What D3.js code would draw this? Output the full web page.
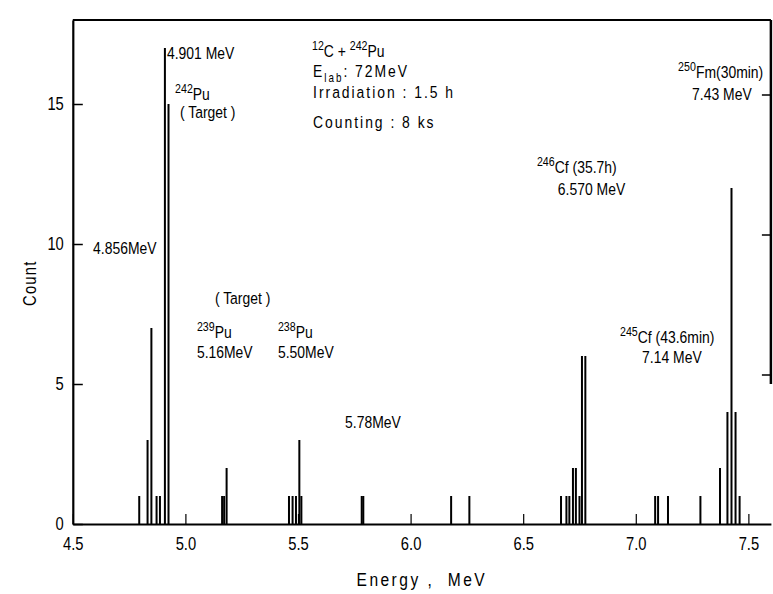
<!DOCTYPE html>
<html>
<head>
<meta charset="utf-8">
<script src="https://cdn.jsdelivr.net/npm/d3@7"></script>
<style>
  html, body { margin: 0; padding: 0; background: #fff; }
  svg { display: block; }
  text { font-family: "Liberation Sans", Arial, sans-serif; fill: #000; white-space: pre; }
</style>
</head>
<body>
<div id="chart"></div>
<script>
// ---- data ----
const energies = [4.795, 4.832, 4.849, 4.872, 4.887, 4.909, 4.925,
  5.163, 5.172, 5.183,
  5.460, 5.476, 5.491, 5.506, 5.515,
  5.783, 5.790,
  6.180, 6.261,
  6.668, 6.692, 6.705, 6.721, 6.734, 6.750, 6.761, 6.776,
  7.086, 7.099, 7.143,
  7.287, 7.374, 7.407, 7.425, 7.443, 7.461];
const counts = [1, 3, 7, 1, 1, 17, 15,
  1, 1, 2,
  1, 1, 1, 3, 1,
  1, 1,
  1, 1,
  1, 1, 1, 2, 2, 1, 6, 6,
  1, 1, 1,
  1, 2, 4, 12, 4, 1];
const xTicks = [4.5, 5.0, 5.5, 6.0, 6.5, 7.0, 7.5];
const yTicks = [0, 5, 10, 15];
const xTitle = "Energy ,\u00A0\u00A0MeV";
const yTitle = "Count";

// annotations: text parts anchored at (energy, count)
const notes = [
  { e: 4.918, c: 16.61, parts: [["4.901 MeV"]] },
  { e: 4.954, c: 15.14, parts: [["242", "sup"], ["Pu"]] },
  { e: 4.976, c: 14.50, parts: [["( Target )"]] },
  { e: 4.590, c: 9.64,  parts: [["4.856MeV"]] },
  { e: 5.562, c: 16.68, parts: [["12", "sup"], ["C + "], ["242", "sup"], ["Pu"]] },
  { e: 5.567, c: 15.96, parts: [["E"], ["lab", "sub"], [": 72MeV"]], wide: true },
  { e: 5.567, c: 15.21, parts: [["Irradiation : 1.5 h"]], wide: true },
  { e: 5.567, c: 14.14, parts: [["Counting : 8 ks"]], wide: true },
  { e: 5.131, c: 7.86,  parts: [["( Target )"]] },
  { e: 5.051, c: 6.64,  parts: [["239", "sup"], ["Pu"]] },
  { e: 5.051, c: 5.93,  parts: [["5.16MeV"]] },
  { e: 5.411, c: 6.64,  parts: [["238", "sup"], ["Pu"]] },
  { e: 5.411, c: 5.93,  parts: [["5.50MeV"]] },
  { e: 5.709, c: 3.43,  parts: [["5.78MeV"]] },
  { e: 6.561, c: 12.54, parts: [["246", "sup"], ["Cf (35.7h)"]] },
  { e: 6.654, c: 11.75, parts: [["6.570 MeV"]] },
  { e: 6.930, c: 6.46,  parts: [["245", "sup"], ["Cf (43.6min)"]] },
  { e: 7.028, c: 5.75,  parts: [["7.14 MeV"]] },
  { e: 7.188, c: 15.93, parts: [["250", "sup"], ["Fm(30min)"]] },
  { e: 7.250, c: 15.14, parts: [["7.43 MeV"]] }
];

// ---- layout ----
const W = 773, H = 594;
const x = d3.scaleLinear().domain([4.5, 7.6]).range([72.8, 770.9]);
const y = d3.scaleLinear().domain([0, 18]).range([524, 20]);
const SX = 0.82;

const svg = d3.select("#chart").append("svg")
  .attr("width", W).attr("height", H)
  .style("background", "#fff");

// frame (top and right)
svg.append("line").attr("x1", x(4.5)).attr("x2", x(7.6))
  .attr("y1", y(18)).attr("y2", y(18))
  .attr("stroke", "#000").attr("stroke-width", 2);
svg.append("line").attr("x1", x(7.6)).attr("x2", x(7.6))
  .attr("y1", y(18)).attr("y2", y(5))
  .attr("stroke", "#000").attr("stroke-width", 2.5);
// right inward ticks
svg.selectAll("line.rt").data(yTicks.filter(d => d > 0)).enter().append("line")
  .attr("class", "rt")
  .attr("x1", x(7.6) - 9).attr("x2", x(7.6))
  .attr("y1", d => y(d) - 9).attr("y2", d => y(d) - 9)
  .attr("stroke", "#000").attr("stroke-width", 1.5);

// bars
svg.append("g").selectAll("rect").data(energies).enter().append("rect")
  .attr("x", d => x(d) - 1)
  .attr("width", 2)
  .attr("y", (d, i) => y(counts[i]))
  .attr("height", (d, i) => y(0) - y(counts[i]))
  .attr("fill", "#000");

// x axis
const xAxis = svg.append("g").attr("transform", `translate(0,${y(0)})`)
  .call(d3.axisBottom(x).tickValues(xTicks).tickFormat(d3.format(".1f"))
    .tickSizeInner(-10).tickSizeOuter(0).tickPadding(13));
xAxis.select(".domain").attr("stroke-width", 2.2);
xAxis.selectAll(".tick line").attr("stroke-width", 1.2);
xAxis.selectAll(".tick text").attr("font-size", 18)
  .attr("font-family", "Liberation Sans, Arial, sans-serif")
  .attr("transform", `scale(${SX},1)`)
  .attr("x", 0);

// y axis
const yAxis = svg.append("g").attr("transform", `translate(${x(4.5)},0)`)
  .call(d3.axisLeft(y).tickValues(yTicks).tickFormat(d3.format("d"))
    .tickSizeInner(-10).tickSizeOuter(0).tickPadding(9));
yAxis.select(".domain").attr("stroke-width", 2.2);
yAxis.selectAll(".tick line").attr("stroke-width", 1.5);
yAxis.selectAll(".tick text").attr("font-size", 18)
  .attr("font-family", "Liberation Sans, Arial, sans-serif")
  .attr("transform", `scale(${SX},1)`)
  .attr("x", -9 / SX);

// axis titles
svg.append("text")
  .attr("transform", `translate(${x(6.05)},${y(0) + 62}) scale(${SX},1)`)
  .attr("text-anchor", "middle")
  .attr("font-size", 19).attr("letter-spacing", 3)
  .text(xTitle);
svg.append("text")
  .attr("transform", `translate(36,${y(8.6)}) rotate(-90) scale(${SX},1)`)
  .attr("text-anchor", "middle")
  .attr("font-size", 18).attr("letter-spacing", 1.5)
  .text(yTitle);

// annotations
notes.forEach(n => {
  const t = svg.append("text")
    .attr("transform", `translate(${x(n.e)},${y(n.c)}) scale(${SX},1)`)
    .attr("font-size", 17)
    .attr("letter-spacing", n.wide ? 2.4 : 0);
  let shift = 0;
  n.parts.forEach(p => {
    const ts = t.append("tspan").text(p[0]);
    let target = 0;
    if (p[1] === "sup") { target = -7; ts.attr("font-size", 13); }
    else if (p[1] === "sub") { target = 5; ts.attr("font-size", 12); }
    ts.attr("dy", target - shift);
    shift = target;
  });
});
</script>
</body>
</html>
